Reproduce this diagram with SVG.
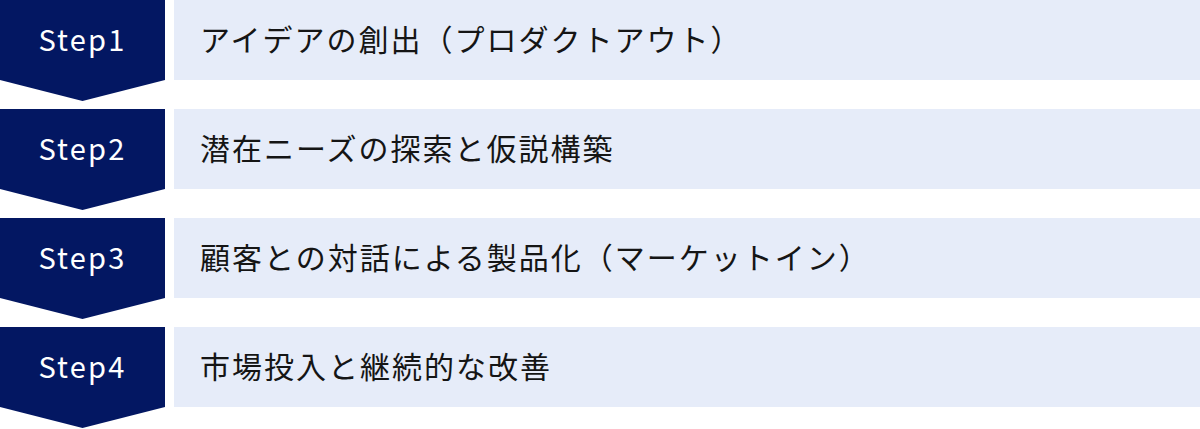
<svg xmlns="http://www.w3.org/2000/svg" width="1200" height="429" viewBox="0 0 1200 429">
  <style>
    .step { fill: #031762; }
    .box { fill: #E6ECF9; }
    .stxt { font-family: "Noto Sans CJK JP", "Noto Sans", sans-serif; font-size: 29px; fill: #FFFFFF; letter-spacing: 2.2px; text-anchor: middle; }
    .ltxt { font-family: "Noto Sans CJK JP", "Noto Sans", sans-serif; font-size: 30px; fill: #151515; letter-spacing: 2px; }
  </style>
  <defs>
    <polygon id="chev" points="0,0 165,0 165,80 82.5,101 0,80"/>
  </defs>
  <rect width="1200" height="429" fill="#FFFFFF"/>
  <g id="connectors"/>
  <g id="step1" transform="translate(0,0)">
    <use href="#chev" class="step"/>
    <rect class="box" x="174" y="0" width="1026" height="80"/>
    <text class="stxt" x="82.5" y="51">Step1</text>
    <text class="ltxt" x="200" y="51">アイデアの創出（プロダクトアウト）</text>
  </g>
  <g id="step2" transform="translate(0,109)">
    <use href="#chev" class="step"/>
    <rect class="box" x="174" y="0" width="1026" height="80"/>
    <text class="stxt" x="82.5" y="51">Step2</text>
    <text class="ltxt" x="200" y="51">潜在ニーズの探索と仮説構築</text>
  </g>
  <g id="step3" transform="translate(0,218)">
    <use href="#chev" class="step"/>
    <rect class="box" x="174" y="0" width="1026" height="80"/>
    <text class="stxt" x="82.5" y="51">Step3</text>
    <text class="ltxt" x="200" y="51">顧客との対話による製品化（マーケットイン）</text>
  </g>
  <g id="step4" transform="translate(0,327)">
    <use href="#chev" class="step"/>
    <rect class="box" x="174" y="0" width="1026" height="80"/>
    <text class="stxt" x="82.5" y="51">Step4</text>
    <text class="ltxt" x="200" y="51">市場投入と継続的な改善</text>
  </g>
</svg>
